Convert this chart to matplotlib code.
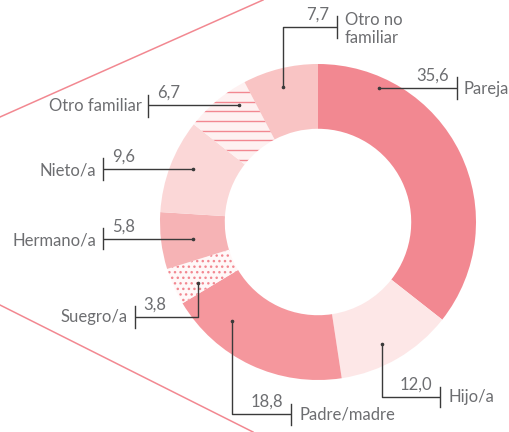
import matplotlib
matplotlib.use('Agg')
from matplotlib import pyplot as plt
import numpy as np

# chart data
labels = ['Pareja', 'Hijo/a', 'Padre/madre', 'Suegro/a', 'Hermano/a',
          'Nieto/a', 'Otro familiar', 'Otro no\nfamiliar']
values = [35.6, 12.0, 18.8, 3.8, 5.8, 9.6, 6.7, 7.7]
value_text = ['35,6', '12,0', '18,8', '3,8', '5,8', '9,6', '6,7', '7,7']
colors = ['#F28891', '#FDE7E7', '#F5979D', '#FFF8F8', '#F6B3B5',
          '#FBD7D7', '#FEF1F1', '#F9C4C4']
hatches = [None, None, None, '...', None, None, 'lines', None]

W, H = 510, 432
PINK = '#F28891'
GREY = '#6D6E71'
INK = '#3A3A3A'


def Y(y):
    # pixel rows from the top -> data y
    return H - y


# leader layout (pixel coords from top-left): path points, cap x, cap span,
# value text pos/alignment, label pos/alignment
leaders = {
    'Pareja': dict(path=[(379, 88), (457, 88)], cap=(457, 77, 99),
                   val=(449, 84, 'right'), lab=(464, 89, 'left')),
    'Hijo/a': dict(path=[(382, 344), (382, 397), (440, 397)], cap=(440, 387, 407),
                   val=(432, 393, 'right'), lab=(449, 397, 'left')),
    'Padre/madre': dict(path=[(232, 321), (232, 414), (291, 414)], cap=(291, 404, 425),
                        val=(283, 410, 'right'), lab=(300, 415, 'left')),
    'Suegro/a': dict(path=[(198, 283), (198, 317), (135, 317)], cap=(135, 306, 328),
                     val=(143, 313, 'left'), lab=(128, 317, 'right')),
    'Hermano/a': dict(path=[(193, 239), (103, 239)], cap=(103, 228, 249),
                      val=(112, 235, 'left'), lab=(96, 240, 'right')),
    'Nieto/a': dict(path=[(193, 169), (103, 169)], cap=(103, 158, 180),
                    val=(112, 165, 'left'), lab=(96, 170, 'right')),
    'Otro familiar': dict(path=[(239, 105), (148, 105)], cap=(148, 95, 117),
                          val=(157, 101, 'left'), lab=(142, 106, 'right')),
    'Otro no\nfamiliar': dict(path=[(283, 87), (283, 27), (337, 27)], cap=(337, 16, 38),
                              val=(329, 23, 'right'), lab=(345, 12, 'left')),
}

plt.rcParams['font.family'] = ['Lato', 'DejaVu Sans']
fig = plt.figure(figsize=(W / 100, H / 100), dpi=100)
ax = fig.add_axes([0, 0, 1, 1])

# decorative pink rays on the left
ax.plot([0, 263], [Y(117), Y(0)], color=PINK, lw=1.1)
ax.plot([0, 253], [Y(305), Y(432)], color=PINK, lw=1.1)

cx, cy, r_out = 318, Y(222), 158
ring = 0.41
wedges, _ = ax.pie(values, colors=colors, startangle=90, counterclock=False,
                   radius=r_out, center=(cx, cy), frame=True,
                   wedgeprops=dict(width=r_out * ring, linewidth=0))
ax.set_xlim(0, W)
ax.set_ylim(0, H)
ax.set_aspect('auto')
ax.axis('off')

for w, h in zip(wedges, hatches):
    if h == '...':
        w.set_hatch('...')
        w.set_edgecolor(PINK)
        w.set_linewidth(0)
    elif h == 'lines':
        for yy in np.arange(Y(92), Y(175), -9.7):
            ln, = ax.plot([150, 300], [yy, yy], color=PINK, lw=1.0)
            ln.set_clip_path(w)

FS = 12
for lab, txt in zip(labels, value_text):
    d = leaders[lab]
    xs = [p[0] for p in d['path']]
    ys = [Y(p[1]) for p in d['path']]
    ax.plot(xs, ys, color=INK, lw=1.0, solid_capstyle='butt')
    ax.plot(xs[0], ys[0], 'o', color=INK, ms=1.6)
    cxp, c0, c1 = d['cap']
    ax.plot([cxp, cxp], [Y(c0), Y(c1)], color=INK, lw=1.0)
    vx, vy, va = d['val']
    ax.text(vx, Y(vy), txt, ha=va, va='bottom', color=GREY, fontsize=FS)
    lx, ly, la = d['lab']
    if '\n' in lab:
        ax.text(lx, Y(ly), lab, ha=la, va='top', color=GREY, fontsize=FS,
                linespacing=1.15)
    else:
        ax.text(lx, Y(ly), lab, ha=la, va='center', color=GREY, fontsize=FS)

fig.savefig('out.png', dpi=100)
